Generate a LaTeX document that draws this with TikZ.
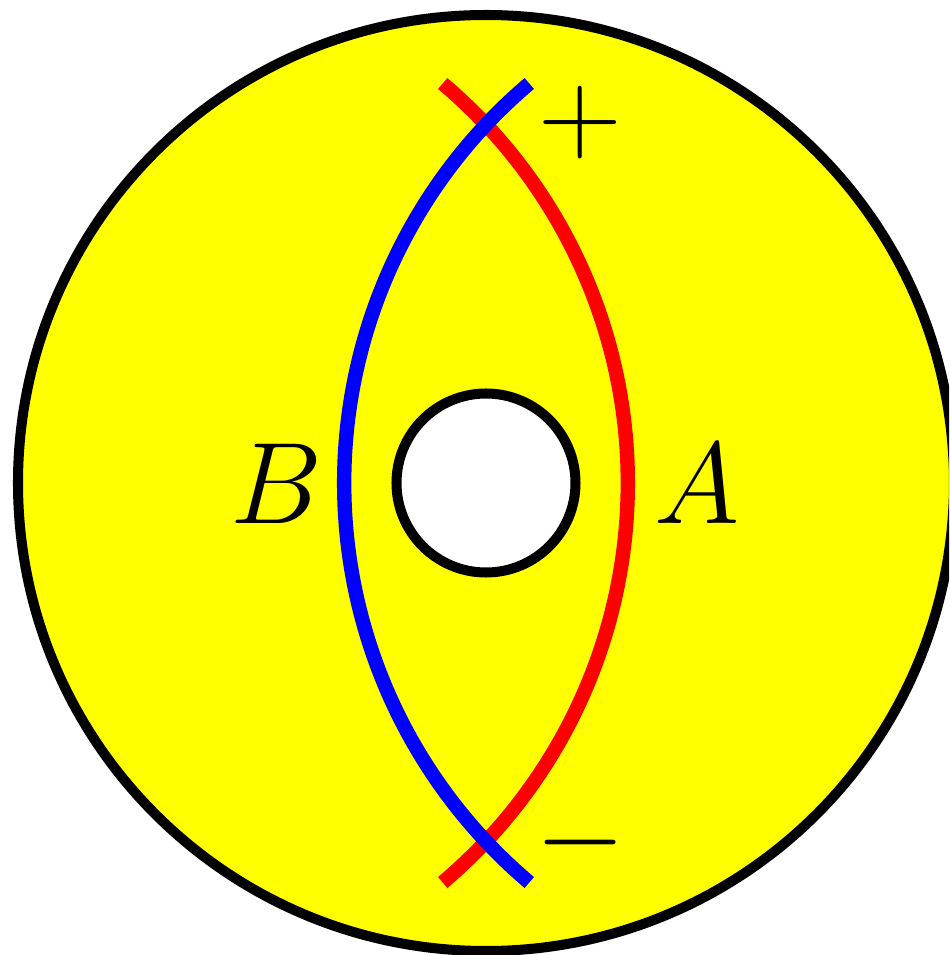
\RequirePackage{fix-cm}
\documentclass[tikz,border=0pt]{standalone}
\usepackage{amsmath, amssymb}
\usetikzlibrary{positioning}
\definecolor{discyellow}{RGB}{255,255,0}
\definecolor{cutred}{RGB}{255,0,0}
\definecolor{cutblue}{RGB}{0,0,255}

\begin{document}
\begin{tikzpicture}[
  rim/.style={draw=black, line width=2.85pt},
  cutA/.style={draw=cutred, line width=4.1pt},
  cutB/.style={draw=cutblue, line width=4.1pt},
  lbl/.style={inner sep=0pt, font=\fontsize{33}{40}\selectfont}
]
\clip (-4.86,-4.72) rectangle (4.63,4.83);
% annulus
\filldraw[rim, fill=discyellow] (0,0) circle (4.68);
\filldraw[rim, fill=white] (0,0) circle (0.895);
% the two cuts
\draw[cutA] (-0.433,3.995) arc[start angle=49.72, end angle=-49.72, radius=5.237];
\draw[cutB] (0.433,3.995) arc[start angle=130.28, end angle=229.72, radius=5.237];
% labels
\node[lbl, anchor=base] (labB) at (-2.09,-0.40) {$B$};
\node[lbl, anchor=base] (labA) at (2.11,-0.40) {$A$};
\node[lbl] (plus) at (0.94,3.60) {$+$};
\node[lbl] (minus) at (0.95,-3.60) {$-$};
\end{tikzpicture}
\end{document}
